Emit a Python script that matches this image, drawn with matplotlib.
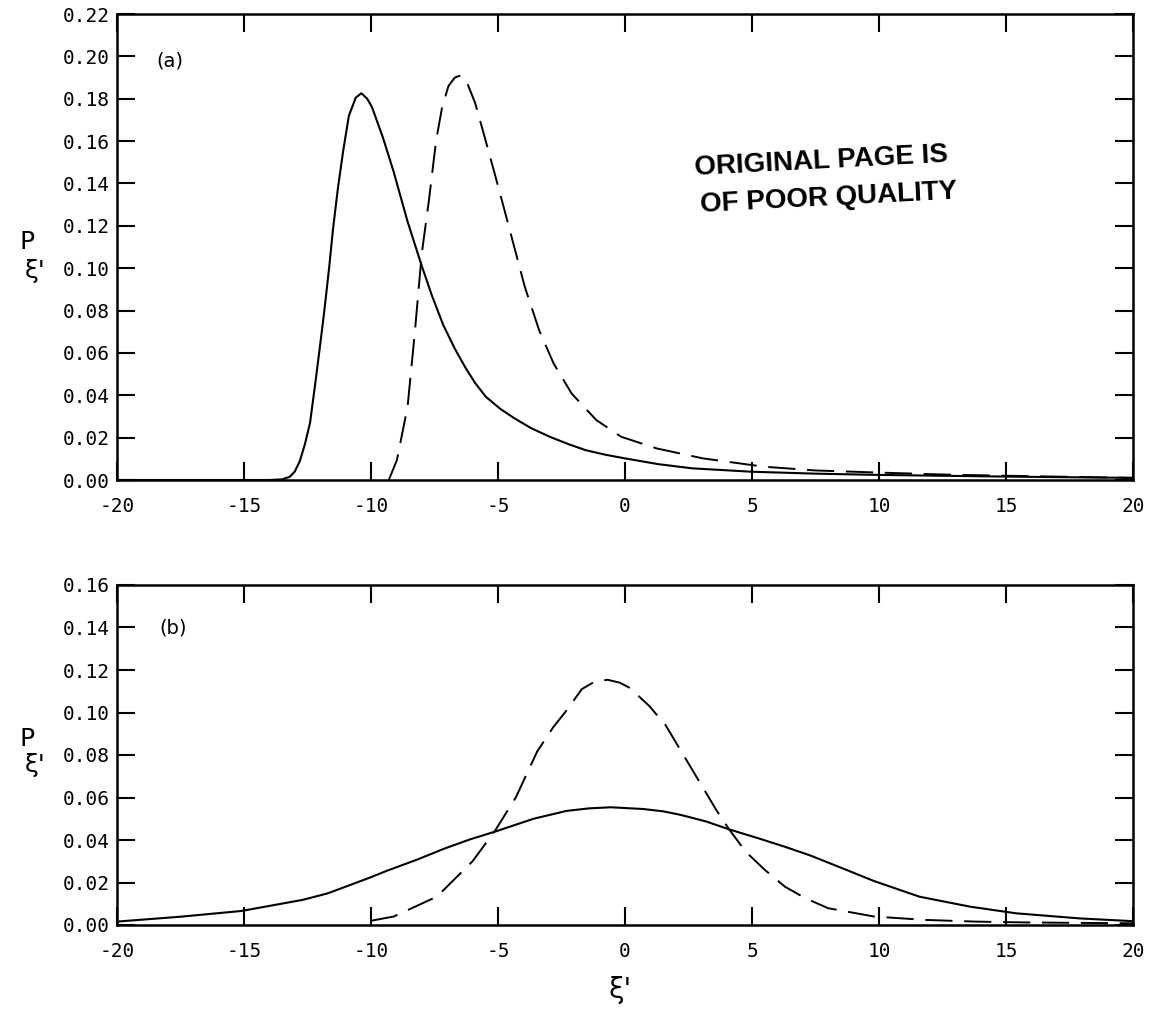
import matplotlib
matplotlib.use("Agg")
import matplotlib.pyplot as plt
import numpy as np

# (a) solid and dashed curves
xa_solid = [-20, -16, -14, -13.5, -13.2, -13.0, -12.8, -12.6, -12.4, -12.2, -12.0, -11.85,
            -11.65, -11.5, -11.3, -11.1, -10.87, -10.6, -10.38, -10.15, -9.96, -9.75, -9.54,
            -9.12, -8.56, -8.0, -7.6, -7.16, -6.7, -6.3, -5.9, -5.48, -4.9, -4.35, -3.7,
            -2.96, -2.2, -1.55, -0.8, 0, 1.3, 2.65, 5, 7.5, 10, 15, 20]
ya_solid = [0, 0, 0, 0.0003, 0.0015, 0.004, 0.009, 0.017, 0.027, 0.045, 0.064, 0.0786,
            0.100, 0.118, 0.138, 0.155, 0.172, 0.1805, 0.1826, 0.180, 0.176, 0.169, 0.162,
            0.146, 0.122, 0.101, 0.087, 0.0733, 0.062, 0.0534, 0.0458, 0.0393, 0.0335, 0.0291,
            0.0245, 0.0204, 0.0168, 0.0141, 0.0120, 0.0102, 0.0075, 0.0055, 0.0039, 0.003,
            0.0024, 0.0016, 0.001]

xa_dash = [-9.3, -8.98, -8.56, -8.28, -8.0, -7.72, -7.44, -7.2, -6.95, -6.7, -6.46, -6.2,
           -5.9, -5.55, -5.13, -4.78, -4.36, -3.94, -3.38, -2.81, -2.1, -1.13, -0.15, 1.25,
           3.07, 5.45, 7.5, 10, 12.5, 15, 17.5, 20]
ya_dash = [0.0, 0.0094, 0.0346, 0.069, 0.107, 0.132, 0.160, 0.176, 0.186, 0.190, 0.191, 0.187,
           0.178, 0.163, 0.1446, 0.129, 0.110, 0.091, 0.0707, 0.055, 0.0408, 0.0283, 0.0204, 0.0149,
           0.0102, 0.0063, 0.0045, 0.0035, 0.0026, 0.002, 0.0015, 0.001]

# (b)
xb_solid = [-20, -17.5, -15.1, -12.7, -11.7, -10, -9.4, -8.2, -7.1, -6.1, -5.1, -3.6, -2.3,
            -1.4, -0.56, 0.7, 1.5, 2.2, 3.2, 4.1, 5.25, 6.3, 7.3, 8.6, 9.8, 11.6, 13.6, 15.4,
            17.9, 20]
yb_solid = [0.0016, 0.0039, 0.0066, 0.0118, 0.0149, 0.0225, 0.0254, 0.0307, 0.036, 0.0403,
            0.044, 0.050, 0.0537, 0.0549, 0.0554, 0.0546, 0.0535, 0.0518, 0.0487, 0.045,
            0.0408, 0.0368, 0.0327, 0.0265, 0.0207, 0.0133, 0.0086, 0.0055, 0.0031, 0.0018]

xb_dash = [-10.0, -9.1, -7.4, -6.0, -5.1, -4.3, -3.46, -2.83, -2.3, -1.7, -1.2, -0.68, -0.2, 0.2,
           0.96, 1.6, 2.1, 2.6, 3.1, 3.6, 4.1, 4.75, 5.5, 6.3, 7.1, 8.0, 9.8, 11.8, 13.8, 15.8, 17.9, 20]
yb_dash = [0.002, 0.004, 0.0134, 0.030, 0.0447, 0.060, 0.0816, 0.093, 0.101, 0.111, 0.1145, 0.1154,
           0.114, 0.1115, 0.103, 0.094, 0.084, 0.074, 0.064, 0.054, 0.045, 0.0345, 0.026, 0.018,
           0.0126, 0.0079, 0.004, 0.0024, 0.0016, 0.0012, 0.001, 0.0008]

xticks = [-20, -15, -10, -5, 0, 5, 10, 15, 20]
yticks_a = np.arange(0, 0.221, 0.02)
yticks_b = np.arange(0, 0.161, 0.02)

plt.rcParams['font.family'] = 'DejaVu Sans'
fig = plt.figure(figsize=(11.54, 10.10), dpi=100)
ax1 = fig.add_axes([117/1154, 1-480/1010, 1016/1154, 466/1010])
ax2 = fig.add_axes([117/1154, 1-925/1010, 1016/1154, 340/1010])

dash = (0, (14, 6))
ax1.plot(xa_solid, ya_solid, c='black', lw=1.5)
ax1.plot(xa_dash, ya_dash, c='black', lw=1.4, ls=dash)
ax2.plot(xb_solid, yb_solid, c='black', lw=1.5)
ax2.plot(xb_dash, yb_dash, c='black', lw=1.4, ls=dash)

for ax, yt, ymax in [(ax1, yticks_a, 0.22), (ax2, yticks_b, 0.16)]:
    ax.set_xlim(-20, 20)
    ax.set_ylim(0, ymax)
    ax.set_xticks(xticks)
    ax.set_xticklabels([str(t) for t in xticks], family='DejaVu Sans Mono')
    ax.set_yticks(yt)
    ax.set_yticklabels(['%.2f' % v for v in yt], family='DejaVu Sans Mono')
    ax.tick_params(direction='in', length=13, width=1.5, top=True, right=True,
                   labelsize=14, color='black')
    ax.tick_params(axis='x', pad=12)
    ax.tick_params(axis='y', pad=5)
    for s in ax.spines.values():
        s.set_linewidth(1.8)

ax1.text(0.039, 0.90, '(a)', transform=ax1.transAxes, fontsize=14, va='center')
ax2.text(0.042, 0.874, '(b)', transform=ax2.transAxes, fontsize=14, va='center')

# P_xi' labels
ax1.text(-0.089, 0.51, 'P', transform=ax1.transAxes, fontsize=18, ha='center', va='center')
ax1.text(-0.081, 0.448, "ξ'", transform=ax1.transAxes, fontsize=18, ha='center', va='center')
ax2.text(-0.089, 0.547, 'P', transform=ax2.transAxes, fontsize=18, ha='center', va='center')
ax2.text(-0.081, 0.47, "ξ'", transform=ax2.transAxes, fontsize=18, ha='center', va='center')

fig.text(620/1154, 1-990/1010, "ξ'", fontsize=20, ha='center', va='center')

# stamp
fig.text(695/1154, 1-168/1010, 'ORIGINAL PAGE IS', fontsize=20, fontweight='bold',
         family='Liberation Sans', rotation=3, rotation_mode='anchor', ha='left', va='center')
fig.text(700/1154, 1-205/1010, 'OF POOR QUALITY', fontsize=20, fontweight='bold',
         family='Liberation Sans', rotation=3, rotation_mode='anchor', ha='left', va='center')

fig.savefig('out.png', dpi=100)
